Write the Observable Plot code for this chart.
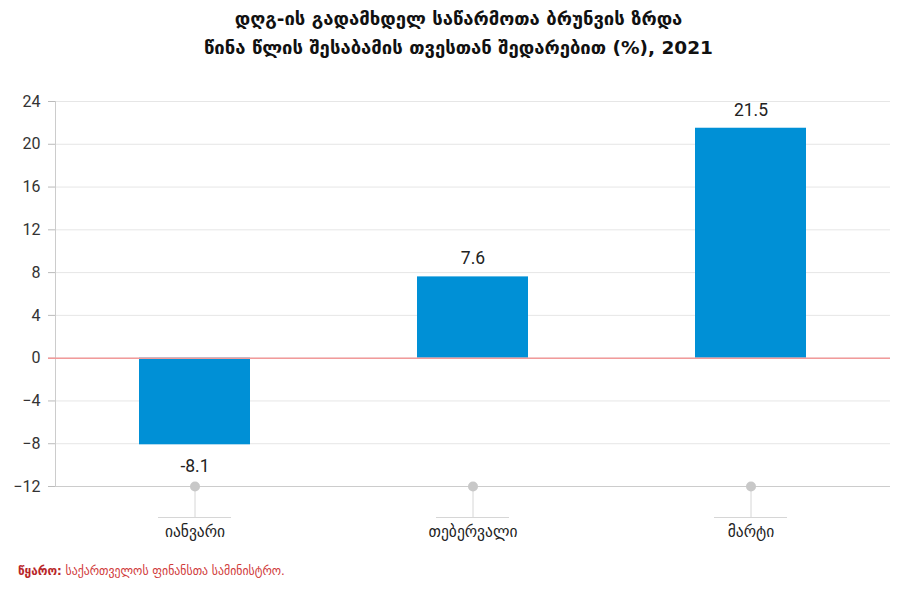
<!DOCTYPE html>
<html>
<head>
<meta charset="utf-8">
<script src="https://cdn.jsdelivr.net/npm/d3@7"></script>
<script src="https://cdn.jsdelivr.net/npm/@observablehq/plot@0.6"></script>
<style>
  body { margin: 0; background: #fff; font-family: Roboto, "DejaVu Sans", sans-serif; }
  #title { height: 70px; text-align: center; font-weight: bold; font-size: 18.5px; color: #111; line-height: 29px; padding-top: 4px; box-sizing: border-box; font-family: "DejaVu Sans", sans-serif; }
  #source { font-size: 11.8px; color: #d03a3a; padding-left: 18px; margin-top: 14px; font-family: "DejaVu Sans", sans-serif; }
  #source b { color: #b8262a; }
</style>
</head>
<body>
<div id="title">დღგ-ის გადამხდელ საწარმოთა ბრუნვის ზრდა<br>წინა წლის შესაბამის თვესთან შედარებით (%), 2021</div>
<div id="chart"></div>
<div id="source"><b>წყარო:</b> საქართველოს ფინანსთა სამინისტრო.</div>
<script>
const months = ["იანვარი", "თებერვალი", "მარტი"];
const growth = [-8.1, 7.6, 21.5];
const yTicks = [-12, -8, -4, 0, 4, 8, 12, 16, 20, 24];

const data = months.map((m, i) => ({month: m, value: growth[i]}));

const chart = Plot.plot({
  width: 917,
  height: 480,
  marginTop: 31,
  marginBottom: 64,
  marginLeft: 55,
  marginRight: 27,
  style: {fontFamily: 'Roboto, "DejaVu Sans", sans-serif', fontSize: "15px", color: "#333"},
  x: {domain: months, paddingInner: 0.6, paddingOuter: 0.3, label: null},
  y: {domain: [-12, 24], ticks: yTicks, label: null},
  marks: [
    Plot.gridY(yTicks, {stroke: "#e6e6e6", strokeOpacity: 1}),
    Plot.axisY(yTicks, {tickSize: 7, tickPadding: 8, stroke: "#bbb", fill: "#333", fontSize: 16, label: null}),
    Plot.frame({anchor: "left", stroke: "#ccc"}),
    Plot.ruleY([-12], {stroke: "#ccc"}),
    Plot.barY(data, {x: "month", y: "value", fill: "#0090d6"}),
    Plot.ruleY([0], {stroke: "#f29a9a", strokeWidth: 1.5, insetLeft: -7}),
    Plot.ruleX(months, {x: d => d, y1: -12, y2: -14.9, stroke: "#d6d6d6"}),
    Plot.tickY(months, {x: d => d, y: -14.9, stroke: "#d6d6d6", insetLeft: 19, insetRight: 19}),
    Plot.dot(months, {x: d => d, y: -12, r: 5, fill: "#c8c8c8"}),
    Plot.axisX(months, {tickSize: 0, tickPadding: 39, fontSize: 15.5, fill: "#222", label: null}),
    Plot.text(data.filter(d => d.value >= 0), {x: "month", y: "value", text: d => d.value.toFixed(1), dy: -18, fontSize: 17.5, fill: "#222"}),
    Plot.text(data.filter(d => d.value < 0), {x: "month", y: "value", text: d => d.value.toFixed(1), dy: 22, fontSize: 17.5, fill: "#222"})
  ]
});
document.getElementById("chart").appendChild(chart);
</script>
</body>
</html>
